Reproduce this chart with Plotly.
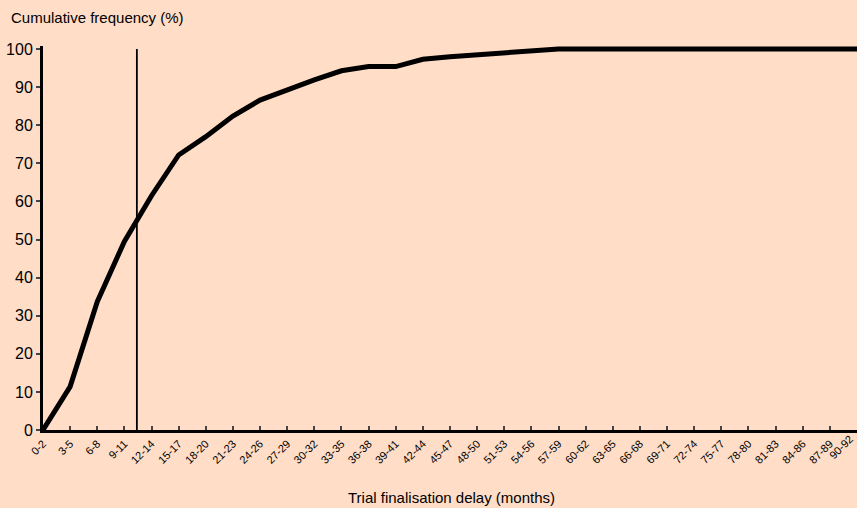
import plotly.graph_objects as go

categories = ["0-2", "3-5", "6-8", "9-11", "12-14", "15-17", "18-20", "21-23", "24-26",
              "27-29", "30-32", "33-35", "36-38", "39-41", "42-44", "45-47", "48-50",
              "51-53", "54-56", "57-59", "60-62", "63-65", "66-68", "69-71", "72-74",
              "75-77", "78-80", "81-83", "84-86", "87-89", "90-92"]
cum_freq = [0, 11.4, 33.7, 49.5, 61.5, 72.2, 77.0, 82.4, 86.6, 89.4, 91.9, 94.3, 95.4,
            95.4, 97.3, 98.0, 98.5, 99.0, 99.5, 100, 100, 100, 100, 100, 100, 100, 100,
            100, 100, 100, 100]
median_position = 3.46
y_ticks = [0, 10, 20, 30, 40, 50, 60, 70, 80, 90, 100]

idx = list(range(len(categories)))

fig = go.Figure()
fig.add_trace(go.Scatter(x=idx, y=cum_freq, mode="lines",
                         line=dict(color="black", width=5), showlegend=False))
fig.add_shape(type="line", xref="x", yref="y", x0=median_position, x1=median_position,
              y0=0, y1=100, line=dict(color="black", width=1.8))

bg = "#FFDDC7"
fig.update_layout(
    width=857, height=508,
    paper_bgcolor=bg, plot_bgcolor=bg,
    margin=dict(l=43, r=0, t=46, b=78, autoexpand=False),
    font=dict(family="Liberation Sans, Arial, sans-serif", color="black"),
    annotations=[
        dict(text="Cumulative frequency (%)", xref="paper", yref="paper",
             x=-34 / 814, y=1.0, xanchor="left", yanchor="bottom", yshift=18,
             showarrow=False, font=dict(size=15)),
        dict(text="Trial finalisation delay (months)", xref="paper", yref="paper",
             x=(452 - 43) / 814, y=0, xanchor="center", yanchor="middle", yshift=-67,
             showarrow=False, font=dict(size=15)),
        # last category label (plotly drops the tick label sitting on the right edge)
        dict(text=categories[-1], xref="x", yref="paper", x=idx[-1], y=0,
             xanchor="center", yanchor="middle", xshift=-16, yshift=-17,
             textangle=-45, showarrow=False, font=dict(size=11)),
    ],
)
fig.update_xaxes(
    range=[0, len(categories) - 1], tickmode="array", tickvals=idx, ticktext=categories,
    tickangle=-45, tickfont=dict(size=11), ticks="inside", ticklen=4, tickwidth=2,
    showline=True, linewidth=3, linecolor="black", showgrid=False, zeroline=False,
    automargin=False,
)
fig.update_yaxes(
    range=[0, 100.8], tickvals=y_ticks, ticks="outside", ticklen=4, tickwidth=2,
    tickfont=dict(size=16), showline=True, linewidth=3, linecolor="black",
    showgrid=False, zeroline=False, automargin=False,
)
fig.write_html(
    "out.html",
    config={"displayModeBar": False},
    post_script="document.body.style.margin='0';document.body.style.background='#FFDDC7';",
)
